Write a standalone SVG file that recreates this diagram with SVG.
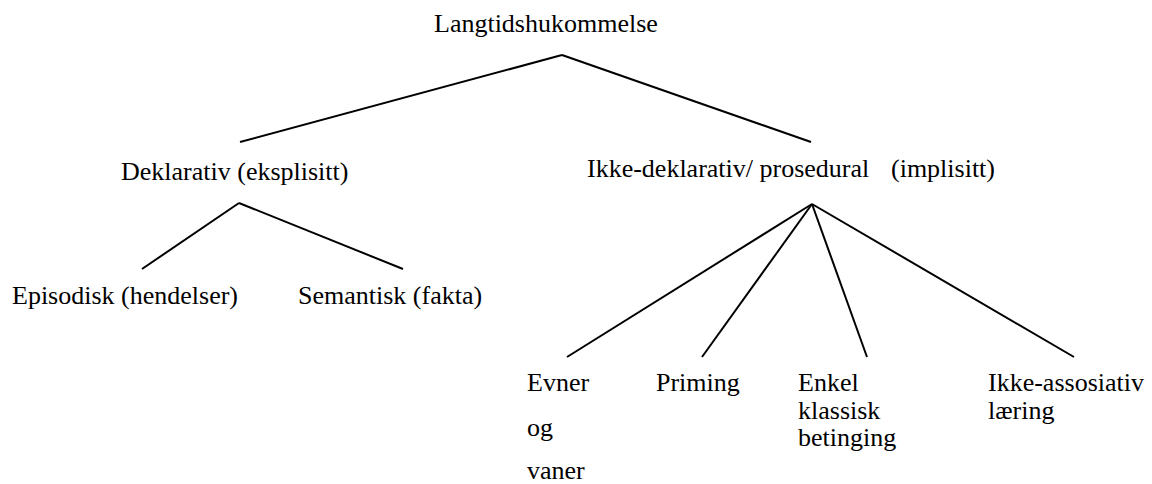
<svg xmlns="http://www.w3.org/2000/svg" width="1152" height="484" viewBox="0 0 1152 484">
<style>
text{font-family:'Liberation Serif',serif;font-size:26px;fill:#000}
.c line{stroke:#000;stroke-width:2;stroke-linecap:butt}
</style>
<rect width="1152" height="484" fill="#fff"/>
<g class="c" id="connectors">
<line x1="562" y1="55" x2="240" y2="142"/>
<line x1="562" y1="55" x2="811" y2="142"/>
<line x1="239" y1="203" x2="142" y2="269"/>
<line x1="239" y1="203" x2="403" y2="269"/>
<line x1="812" y1="204" x2="567" y2="357"/>
<line x1="812" y1="204" x2="702" y2="357"/>
<line x1="812" y1="204" x2="867" y2="357"/>
<line x1="812" y1="204" x2="1074" y2="357"/>
</g>
<g id="n-root"><text x="434" y="32">Langtidshukommelse</text></g>
<g id="n-dekl"><text x="121" y="180">Deklarativ (eksplisitt)</text></g>
<g id="n-ikke"><text y="177"><tspan x="587">Ikke-deklarativ/ prosedural</tspan><tspan x="891">(implisitt)</tspan></text></g>
<g id="n-epi"><text x="12" y="304">Episodisk (hendelser)</text></g>
<g id="n-sem"><text x="298" y="304">Semantisk (fakta)</text></g>
<g id="n-evner"><text x="527" y="391">Evner</text><text x="527" y="436">og</text><text x="527" y="479">vaner</text></g>
<g id="n-priming"><text x="656" y="391">Priming</text></g>
<g id="n-enkel"><text x="798" y="391">Enkel</text><text x="798" y="418.5">klassisk</text><text x="798" y="446">betinging</text></g>
<g id="n-ikkeass"><text x="988" y="391">Ikke-assosiativ</text><text x="988" y="418.5">læring</text></g>
</svg>
